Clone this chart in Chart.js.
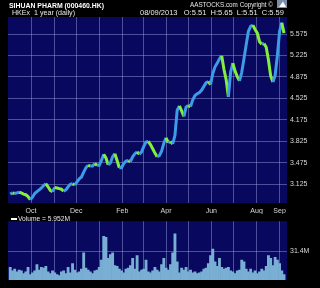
<!DOCTYPE html>
<html>
<head>
<meta charset="utf-8">
<script src="https://cdn.jsdelivr.net/npm/chart.js@4.4.0/dist/chart.umd.min.js"></script>
<style>
  body { margin: 0; background: #000; width: 320px; height: 288px; overflow: hidden; position: relative; }
  #priceChart { position: absolute; left: 0; top: 0; }
  #volChart { position: absolute; left: 0; top: 214px; }
</style>
</head>
<body>
<canvas id="priceChart" width="320" height="214"></canvas>
<canvas id="volChart" width="320" height="74"></canvas>
<script>
// data, one point every 3 days starting 2012-09-03
const firstDate = '2012-09-03';
const stepDays = 3;

const closes = [
  2.96, 2.98, 2.97, 2.98, 2.99, 2.98, 2.96, 2.95, 2.92, 2.87,
  2.91, 2.97, 3.00, 3.03, 3.06, 3.10, 3.13, 3.08, 3.02, 3.00,
  3.07, 3.06, 3.05, 3.04, 3.01, 3.03, 3.08, 3.12, 3.13, 3.11,
  3.16, 3.21, 3.24, 3.32, 3.39, 3.43, 3.42, 3.42, 3.46, 3.43,
  3.43, 3.51, 3.61, 3.55, 3.44, 3.47, 3.57, 3.62, 3.51, 3.39,
  3.39, 3.46, 3.50, 3.51, 3.49, 3.57, 3.62, 3.65, 3.61, 3.65,
  3.74, 3.81, 3.82, 3.77, 3.70, 3.63, 3.57, 3.59, 3.66, 3.79,
  3.88, 3.80, 3.82, 3.78, 3.92, 4.33, 4.40, 4.32, 4.23, 4.38,
  4.41, 4.39, 4.50, 4.57, 4.60, 4.62, 4.66, 4.72, 4.78, 4.80,
  4.75, 4.93, 5.04, 5.10, 5.17, 5.22, 5.00, 4.83, 4.55, 4.95,
  5.10, 4.97, 4.88, 4.81, 4.95, 5.17, 5.40, 5.62, 5.70, 5.72,
  5.65, 5.59, 5.45, 5.41, 5.42, 5.36, 5.15, 4.89, 4.79, 4.90,
  5.22, 5.62, 5.76, 5.59
];

// volume in millions
const volumes = [
  14, 10, 12, 9, 11, 10, 7, 9, 14, 6,
  8, 10, 17, 11, 14, 13, 15, 9, 7, 10,
  8, 6, 5, 9, 10, 7, 14, 8, 18, 11,
  8, 9, 12, 30, 13, 11, 9, 7, 10, 11,
  14, 22, 48, 47, 24, 28, 30, 16, 15, 12,
  10, 8, 12, 13, 16, 24, 12, 27, 9, 11,
  12, 22, 9, 8, 10, 14, 11, 9, 17, 24,
  13, 11, 17, 30, 51, 20, 8, 13, 11, 14,
  9, 11, 8, 9, 7, 8, 9, 12, 13, 18,
  27, 34, 20, 15, 24, 14, 12, 13, 14, 10,
  9, 7, 10, 11, 22, 20, 12, 9, 12, 8,
  10, 7, 9, 12, 10, 15, 27, 24, 16, 25,
  22, 18, 10, 5.952
];

const monthStarts = ['2012-10-01', '2012-11-01', '2012-12-01', '2013-01-01', '2013-02-01', '2013-03-01',
  '2013-04-01', '2013-05-01', '2013-06-01', '2013-07-01', '2013-08-01', '2013-09-01'];
const monthLabels = ['Oct', '', 'Dec', '', 'Feb', '', 'Apr', '', 'Jun', '', 'Aug', 'Sep'];
const priceTicks = [3.125, 3.475, 3.825, 4.175, 4.525, 4.875, 5.225, 5.575];
const volTicks = [31.4];

function dayOf(s) {
  return (Date.parse(s) - Date.parse('2012-10-01')) / 864e5;
}

const start = dayOf(firstDate);
const days = closes.map((c, i) => start + i * stepDays);
const xMin = dayOf('2012-08-31');
const xMax = dayOf('2013-09-11');

const font = { family: "'Liberation Sans', Arial, sans-serif", size: 7 };
const gridCol = 'rgba(150,150,215,0.5)';
const plotBg = '#07085e';

const bgPlugin = {
  id: 'plotbg',
  beforeDraw(chart) {
    const a = chart.chartArea, c = chart.ctx;
    c.save();
    c.fillStyle = plotBg;
    c.fillRect(a.left, a.top, a.right - a.left, a.bottom - a.top);
    c.restore();
  }
};

const headerPlugin = {
  id: 'header',
  afterDraw(chart) {
    const c = chart.ctx;
    c.save();
    c.fillStyle = '#ffffff';
    c.textBaseline = 'alphabetic';
    c.font = "bold 7.5px 'Liberation Sans', Arial, sans-serif";
    c.fillText('SIHUAN PHARM (000460.HK)', 9, 7.5, 95);
    c.font = "7.5px 'Liberation Sans', Arial, sans-serif";
    c.fillStyle = '#e8e8e8';
    c.fillText('AASTOCKS.com Copyright \u00a9', 190, 7, 83);
    c.fillText('HKEx  1 year (daily)', 12, 15, 63);
    c.fillText('08/09/2013   O:5.51  H:5.65  L:5.51  C:5.59', 140, 15, 147);
    // little logo box
    c.fillStyle = '#7c8ea6';
    c.fillRect(277, 0, 10, 8);
    c.fillStyle = '#ffffff';
    c.beginPath();
    c.moveTo(279, 7); c.lineTo(283, 1.5); c.lineTo(286, 7); c.closePath();
    c.fill();
    c.restore();
  }
};

const monthTicks = function(scale) {
  scale.ticks = monthStarts.map(s => ({ value: dayOf(s) }));
};

new Chart(document.getElementById('priceChart'), {
  type: 'line',
  data: {
    datasets: [{
      data: closes.map((c, i) => ({ x: days[i], y: c })),
      borderWidth: 3,
      pointRadius: 0,
      tension: 0,
      borderColor: '#3d9be8',
      segment: {
        borderColor: ctx => ctx.p1.parsed.y >= ctx.p0.parsed.y ? '#3d9be8' : '#84ee3c'
      }
    }]
  },
  options: {
    responsive: false,
    devicePixelRatio: 1,
    animation: false,
    layout: { padding: { left: 8, top: 17, right: 0, bottom: 0 } },
    plugins: { legend: { display: false }, tooltip: { enabled: false } },
    scales: {
      x: {
        type: 'linear',
        min: xMin,
        max: xMax,
        afterBuildTicks: monthTicks,
        afterFit: s => { s.height = 11; },
        grid: { color: gridCol, drawTicks: false },
        border: { display: false },
        ticks: {
          autoSkip: false, maxRotation: 0, padding: 4,
          color: '#d8d8d8', font: font,
          callback: (v, i) => monthLabels[i]
        }
      },
      y: {
        position: 'right',
        min: 2.815,
        max: 5.853,
        afterBuildTicks: s => { s.ticks = priceTicks.map(v => ({ value: v })); },
        afterFit: s => { s.width = 33; },
        grid: { color: gridCol, drawTicks: false },
        border: { display: false },
        ticks: {
          padding: 3, color: '#d8d8d8', font: font,
          callback: v => v.toFixed(3)
        }
      }
    }
  },
  plugins: [bgPlugin, headerPlugin]
});

const volLegend = {
  id: 'volLegend',
  afterDraw(chart) {
    const c = chart.ctx;
    c.save();
    c.fillStyle = '#ffffff';
    c.fillRect(11, 4, 6, 2);
    c.fillStyle = '#e8e8e8';
    c.font = "7px 'Liberation Sans', Arial, sans-serif";
    c.textBaseline = 'middle';
    c.fillText('Volume = 5.952M', 18, 5, 52);
    c.restore();
  }
};

new Chart(document.getElementById('volChart'), {
  type: 'bar',
  data: {
    datasets: [{
      data: volumes.map((v, i) => ({ x: days[i], y: v })),
      backgroundColor: '#7aafd4',
      barThickness: 2.2
    }]
  },
  options: {
    responsive: false,
    devicePixelRatio: 1,
    animation: false,
    layout: { padding: { left: 8, top: 0, right: 0, bottom: 0 } },
    plugins: { legend: { display: false }, tooltip: { enabled: false } },
    scales: {
      x: {
        type: 'linear',
        min: xMin,
        max: xMax,
        offset: false,
        afterBuildTicks: monthTicks,
        afterFit: s => { s.height = 8; },
        grid: { color: gridCol, drawTicks: false, offset: false },
        border: { display: false },
        ticks: { display: false }
      },
      y: {
        position: 'right',
        min: 0,
        max: 64.8,
        afterBuildTicks: s => { s.ticks = volTicks.map(v => ({ value: v })); },
        afterFit: s => { s.width = 33; },
        grid: { color: gridCol, drawTicks: false },
        border: { display: false },
        ticks: {
          padding: 3, color: '#d8d8d8', font: font,
          callback: v => v + 'M'
        }
      }
    }
  },
  plugins: [bgPlugin, volLegend]
});
</script>
</body>
</html>
